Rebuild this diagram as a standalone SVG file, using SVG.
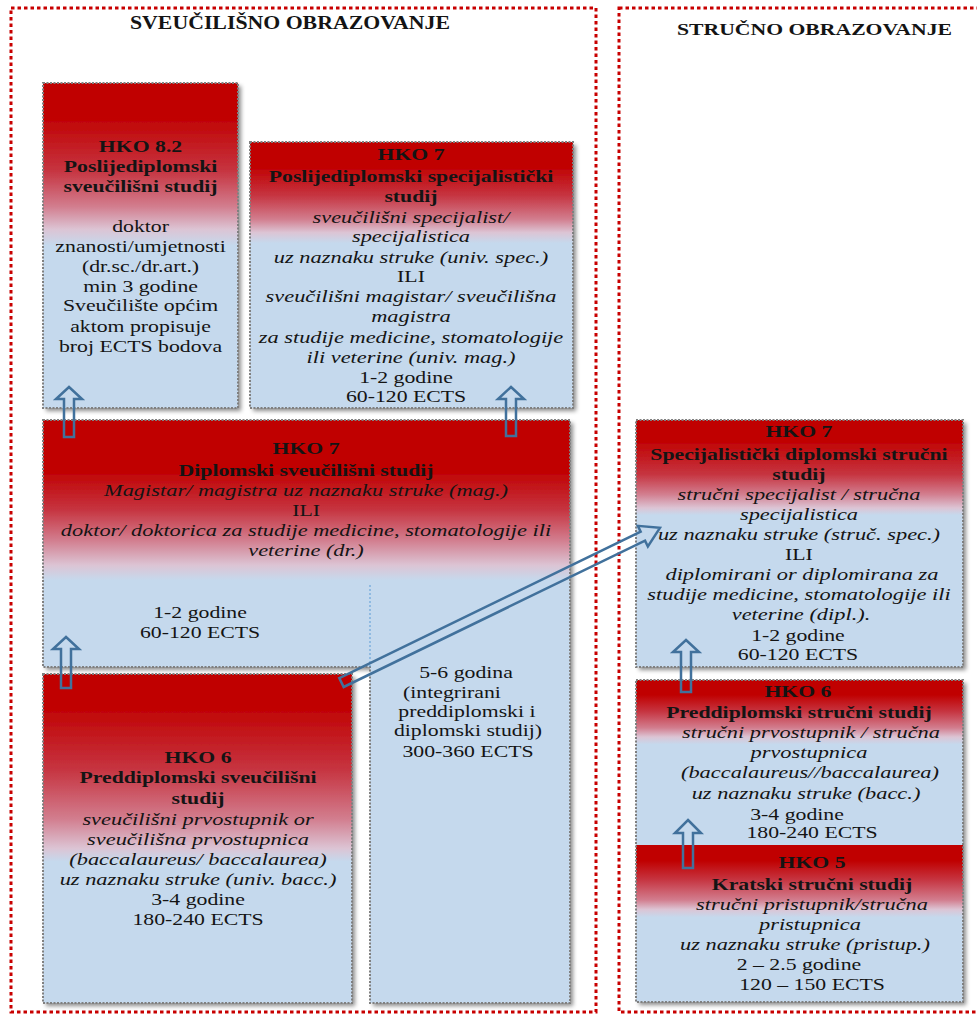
<svg xmlns="http://www.w3.org/2000/svg" width="977" height="1014" viewBox="0 0 977 1014">
<defs>
<style>
.cont{fill:none;stroke:#c80000;stroke-width:3;stroke-dasharray:3.5 3}
.box{stroke:#808080;stroke-width:2;stroke-dasharray:2 1.5}
.sh{filter:url(#sh)}
.t{font-family:"Liberation Serif","Times New Roman",serif;font-size:17px;fill:#141414;text-anchor:middle}
.b{font-weight:bold}
.i{font-style:italic;font-size:17.5px}
.h{font-family:"Liberation Serif","Times New Roman",serif;font-weight:bold;fill:#141414}
.arr{fill:none;stroke:#41719c;stroke-width:2.5;stroke-linejoin:miter}
.sep{stroke:#5b9bd5;stroke-width:1;stroke-dasharray:2 2}
.r0{stop-color:#c00000}
.r1{stop-color:#c63440}
.r2{stop-color:#d27d8e}
.lv{stop-color:#dcc4d4}
.bl{stop-color:#c5d9ed}
</style>
<filter id="sh" x="-5%" y="-5%" width="112%" height="112%">
<feDropShadow dx="3" dy="3" stdDeviation="2" flood-color="#000" flood-opacity="0.45"/>
</filter>
<linearGradient id="gA" x1="0" y1="0" x2="0" y2="1">
<stop offset="0" class="r0"/><stop offset="0.1" class="r0"/><stop offset="0.27" class="r1"/><stop offset="0.38" class="r2"/><stop offset="0.45" class="lv"/><stop offset="0.5" class="bl"/><stop offset="1" class="bl"/>
</linearGradient>
<linearGradient id="gB" x1="0" y1="0" x2="0" y2="1">
<stop offset="0" class="r0"/><stop offset="0.09" class="r0"/><stop offset="0.2" class="r1"/><stop offset="0.29" class="r2"/><stop offset="0.34" class="lv"/><stop offset="0.38" class="bl"/><stop offset="1" class="bl"/>
</linearGradient>
<linearGradient id="gC" gradientUnits="userSpaceOnUse" x1="0" y1="420" x2="0" y2="1003">
<stop offset="0" class="r0"/><stop offset="0.086" class="r0"/><stop offset="0.154" class="r1"/><stop offset="0.206" class="r2"/><stop offset="0.249" class="lv"/><stop offset="0.275" class="bl"/><stop offset="1" class="bl"/>
</linearGradient>
<linearGradient id="gD" x1="0" y1="0" x2="0" y2="1">
<stop offset="0" class="r0"/><stop offset="0.094" class="r0"/><stop offset="0.29" class="r1"/><stop offset="0.44" class="r2"/><stop offset="0.53" class="lv"/><stop offset="0.57" class="bl"/><stop offset="1" class="bl"/>
</linearGradient>
<linearGradient id="gE" x1="0" y1="0" x2="0" y2="1">
<stop offset="0" class="r0"/><stop offset="0.08" class="r0"/><stop offset="0.22" class="r1"/><stop offset="0.3" class="r2"/><stop offset="0.356" class="lv"/><stop offset="0.385" class="bl"/><stop offset="1" class="bl"/>
</linearGradient>
<linearGradient id="gF" x1="0" y1="0" x2="0" y2="1">
<stop offset="0" class="r0"/><stop offset="0.09" class="r0"/><stop offset="0.19" class="r1"/><stop offset="0.29" class="r2"/><stop offset="0.345" class="lv"/><stop offset="0.39" class="bl"/><stop offset="1" class="bl"/>
</linearGradient>
<linearGradient id="gG" x1="0" y1="0" x2="0" y2="1">
<stop offset="0" class="r0"/><stop offset="0.1" class="r0"/><stop offset="0.22" class="r1"/><stop offset="0.35" class="r2"/><stop offset="0.41" class="lv"/><stop offset="0.46" class="bl"/><stop offset="1" class="bl"/>
</linearGradient>
</defs>
<rect width="977" height="1014" fill="#ffffff"/>

<g id="containers">
<rect class="cont" x="11" y="8" width="585" height="1004"/>
<rect class="cont" x="619" y="8" width="362" height="1004"/>
<text class="h" x="130" y="29" font-size="18" textLength="320" lengthAdjust="spacingAndGlyphs">SVEUČILIŠNO OBRAZOVANJE</text>
<text class="h" x="677" y="35" font-size="17" textLength="275" lengthAdjust="spacingAndGlyphs">STRUČNO OBRAZOVANJE</text>
</g>

<g id="hko82">
<rect class="sh" x="43" y="83" width="195" height="325" fill="url(#gA)"/>
<rect class="box" x="43" y="83" width="195" height="325" fill="none"/>
<g transform="scale(1.28,1)">
<text class="t b" x="109.8" y="152">HKO 8.2</text>
<text class="t b" x="109.8" y="172">Poslijediplomski</text>
<text class="t b" x="109.8" y="192">sveučilišni studij</text>
<text class="t" x="109.8" y="232">doktor</text>
<text class="t" x="109.8" y="252">znanosti/umjetnosti</text>
<text class="t" x="109.8" y="272">(dr.sc./dr.art.)</text>
<text class="t" x="109.8" y="292">min 3 godine</text>
<text class="t" x="109.8" y="311">Sveučilište općim</text>
<text class="t" x="109.8" y="332">aktom propisuje</text>
<text class="t" x="109.8" y="352">broj ECTS bodova</text>
</g>
</g>

<g id="hko7-poslijediplomski">
<rect class="sh" x="250" y="142" width="323" height="266" fill="url(#gB)"/>
<rect class="box" x="250" y="142" width="323" height="266" fill="none"/>
<g transform="scale(1.28,1)">
<text class="t b" x="321.1" y="160">HKO 7</text>
<text class="t b" x="321.1" y="182">Poslijediplomski specijalistički</text>
<text class="t b" x="321.1" y="202">studij</text>
<text class="t i" x="321.1" y="223">sveučilišni specijalist/</text>
<text class="t i" x="321.1" y="242">specijalistica</text>
<text class="t i" x="321.1" y="263">uz naznaku struke (univ. spec.)</text>
<text class="t" x="321.1" y="282">ILI</text>
<text class="t i" x="321.1" y="302">sveučilišni magistar/ sveučilišna</text>
<text class="t i" x="321.1" y="322">magistra</text>
<text class="t i" x="321.1" y="343">za studije medicine, stomatologije</text>
<text class="t i" x="321.1" y="363">ili veterine (univ. mag.)</text>
<text class="t" x="317.2" y="383">1-2 godine</text>
<text class="t" x="317.2" y="402">60-120 ECTS</text>
</g>
</g>

<g id="hko7-diplomski">
<path class="sh" d="M43,420 H570 V1003 H370 V667 H43 Z" fill="url(#gC)"/>
<path class="box" d="M43,420 H570 V1003 H370 V667 H43 Z" fill="none"/>
<line class="sep" x1="370" y1="585" x2="370" y2="667"/>
<g transform="scale(1.28,1)">
<text class="t b" x="239.1" y="454">HKO 7</text>
<text class="t b" x="239.1" y="476">Diplomski sveučilišni studij</text>
<text class="t i" x="239.1" y="496">Magistar/ magistra uz naznaku struke (mag.)</text>
<text class="t" x="239.1" y="516">ILI</text>
<text class="t i" x="239.1" y="536">doktor/ doktorica za studije medicine, stomatologije ili</text>
<text class="t i" x="239.1" y="556">veterine (dr.)</text>
<text class="t" x="156.3" y="618">1-2 godine</text>
<text class="t" x="156.3" y="638">60-120 ECTS</text>
<text class="t" x="364.1" y="678">5-6 godina</text>
<text class="t" x="353.1" y="698">(integrirani</text>
<text class="t" x="364.8" y="717">preddiplomski i</text>
<text class="t" x="365.6" y="736">diplomski studij)</text>
<text class="t" x="365.6" y="757">300-360 ECTS</text>
</g>
</g>

<g id="hko6-preddiplomski-sveucilisni">
<rect class="sh" x="43" y="674" width="309" height="329" fill="url(#gD)"/>
<rect class="box" x="43" y="674" width="309" height="329" fill="none"/>
<g transform="scale(1.28,1)">
<text class="t b" x="154.7" y="763">HKO 6</text>
<text class="t b" x="154.7" y="783">Preddiplomski sveučilišni</text>
<text class="t b" x="154.7" y="804">studij</text>
<text class="t i" x="154.7" y="825">sveučilišni prvostupnik or</text>
<text class="t i" x="154.7" y="845">sveučilišna prvostupnica</text>
<text class="t i" x="154.7" y="865">(baccalaureus/ baccalaurea)</text>
<text class="t i" x="154.7" y="885">uz naznaku struke (univ. bacc.)</text>
<text class="t" x="154.7" y="905">3-4 godine</text>
<text class="t" x="154.7" y="925">180-240 ECTS</text>
</g>
</g>

<g id="hko7-specijalisticki">
<rect class="sh" x="636" y="420" width="327" height="247" fill="url(#gE)"/>
<rect class="box" x="636" y="420" width="327" height="247" fill="none"/>
<g transform="scale(1.28,1)">
<text class="t b" x="624.2" y="437">HKO 7</text>
<text class="t b" x="624.2" y="460">Specijalistički diplomski stručni</text>
<text class="t b" x="624.2" y="480">studij</text>
<text class="t i" x="624.2" y="500">stručni specijalist / stručna</text>
<text class="t i" x="624.2" y="520">specijalistica</text>
<text class="t i" x="624.2" y="540">uz naznaku struke (struč. spec.)</text>
<text class="t" x="624.2" y="560">ILI</text>
<text class="t i" x="626.5" y="580">diplomirani or diplomirana za</text>
<text class="t i" x="624.2" y="600">studije medicine, stomatologije ili</text>
<text class="t i" x="625.8" y="620">veterine (dipl.).</text>
<text class="t" x="623.4" y="641">1-2 godine</text>
<text class="t" x="623.4" y="660">60-120 ECTS</text>
</g>
</g>

<g id="hko6-strucni">
<rect class="sh" x="636" y="680" width="327" height="322" fill="#c5d9ed"/>
<rect x="636" y="680" width="327" height="165" fill="url(#gF)"/>
<g transform="scale(1.28,1)">
<text class="t b" x="623.4" y="697">HKO 6</text>
<text class="t b" x="624.2" y="718">Preddiplomski stručni studij</text>
<text class="t i" x="633.6" y="738">stručni prvostupnik / stručna</text>
<text class="t i" x="632" y="758">prvostupnica</text>
<text class="t i" x="632.8" y="778">(baccalaureus//baccalaurea)</text>
<text class="t i" x="629.7" y="799">uz naznaku struke (bacc.)</text>
<text class="t" x="622.7" y="820">3-4 godine</text>
<text class="t" x="634.4" y="838">180-240 ECTS</text>
</g>
</g>

<g id="hko5-kratski">
<rect x="636" y="845" width="327" height="157" fill="url(#gG)"/>
<g transform="scale(1.28,1)">
<text class="t b" x="634.4" y="868">HKO 5</text>
<text class="t b" x="634.4" y="890">Kratski stručni studij</text>
<text class="t i" x="634.4" y="910">stručni pristupnik/stručna</text>
<text class="t i" x="632.8" y="930">pristupnica</text>
<text class="t i" x="628.9" y="950">uz naznaku struke (pristup.)</text>
<text class="t" x="624.2" y="970">2 – 2.5 godine</text>
<text class="t" x="634.4" y="990">120 – 150 ECTS</text>
</g>
<rect class="box" x="636" y="680" width="327" height="322" fill="none"/>
</g>

<g id="connectors">
<polygon class="arr" points="69,387 82,399 74,399 74,437 64,437 64,399 56,399"/>
<polygon class="arr" points="511,387 524,399 516,399 516,436 506,436 506,399 498,399"/>
<polygon class="arr" points="66,637 79,649 71,649 71,688 61,688 61,649 53,649"/>
<polygon class="arr" points="686,640 699,652 691,652 691,692 681,692 681,652 673,652"/>
<polygon class="arr" points="688,820 701,833 693,833 693,868 683,868 683,833 675,833"/>
<polygon class="arr" transform="translate(341.5,682.5) rotate(-25.9)" points="0,-5 335,-5 335,-11.5 354,0 335,11.5 335,5 0,5"/>
</g>
</svg>
